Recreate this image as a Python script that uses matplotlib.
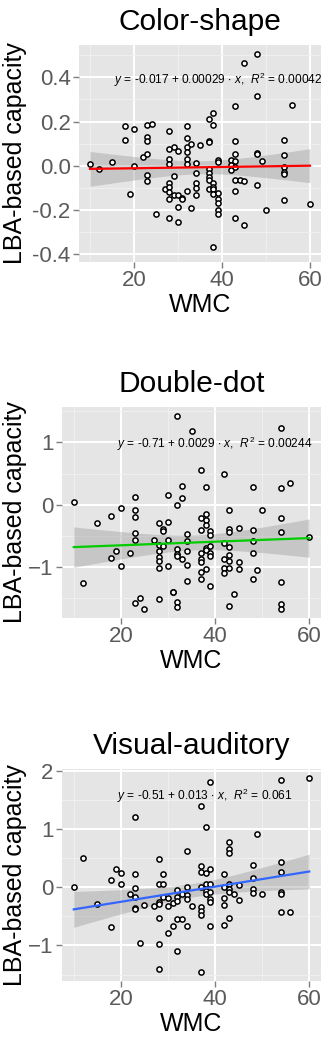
import matplotlib
matplotlib.use("Agg")
import matplotlib.pyplot as plt
import numpy as np

# ---- data ----
cs_wmc = [10, 12, 15, 18, 18, 19, 20, 20, 22, 23, 23, 23, 23, 23, 23, 24, 25, 27,
          28, 28, 28, 28, 28, 28, 28, 28, 28, 29, 29, 29, 30, 30, 30, 30, 31, 31,
          32, 32, 32, 32, 32, 32, 32, 33, 33, 34, 34, 34, 34, 34, 35,
          37, 37, 37, 37, 37, 37, 37, 37, 38, 38, 38, 38, 38, 38, 38,
          39, 39, 39, 39, 39, 39, 39, 42, 42, 42, 43, 43, 43, 43, 43, 43, 43, 43,
          44, 45, 45, 45, 48, 48, 48, 48, 48, 49, 50, 54, 54, 54, 54, 54, 54, 56, 60]
cs_cap = [0.008, -0.014, 0.018, 0.18, 0.116, -0.127, 0.168, 0.0, 0.038, 0.184, 0.131,
          0.112, 0.051, -0.04, -0.07, 0.19, -0.22, -0.106,
          0.155, 0.077, 0.03, 0.006, -0.08, -0.096, -0.118, -0.15, -0.238,
          0.086, -0.045, -0.13, 0.065, -0.13, -0.187, -0.254, -0.145, -0.15,
          0.181, 0.127, 0.086, 0.063, 0.03, 0.009, -0.113, 0.098, -0.193,
          0.011, -0.033, -0.077, -0.1, -0.13, 0.095,
          0.21, 0.11, 0.106, -0.015, -0.032, -0.05, -0.065, -0.103,
          0.24, 0.186, -0.08, -0.095, -0.107, -0.128, -0.367,
          0.026, 0.018, -0.122, -0.152, -0.168, -0.2, -0.22, 0.026, 0.003, -0.02,
          0.272, 0.112, 0.053, 0.023, -0.005, -0.065, -0.115, -0.238,
          -0.066, 0.466, -0.068, -0.266, 0.507, 0.317, 0.059, 0.051, -0.085,
          0.02, -0.2, 0.118, 0.047, -0.005, -0.027, -0.036, -0.155, 0.276, -0.175]

dd_wmc = [10, 12, 15, 18, 18, 19, 20, 20, 22, 23, 23, 23, 23, 23, 23, 24, 25, 27,
          28, 28, 28, 28, 28, 28, 28, 29, 29, 29, 30, 30, 30, 30, 31, 31,
          32, 32, 32, 32, 32, 32, 32, 33, 33, 33, 34, 34, 34, 34, 34, 35,
          37, 37, 37, 37, 37, 37, 37, 37, 38, 38, 38, 38, 38, 38, 38,
          39, 39, 39, 39, 39, 39, 42, 42, 42, 42, 42,
          43, 43, 43, 43, 43, 43, 43, 43, 44, 45, 45, 45,
          48, 48, 48, 48, 48, 49, 50, 54, 54, 54, 54, 54, 54, 54, 56, 60]
dd_cap = [0.04, -1.26, -0.29, -0.18, -0.85, -0.75, -0.05, -0.99, -0.77, 0.12, -0.09,
          -0.2, -0.45, -0.57, -1.58, -1.5, -1.68, -0.56,
          -0.29, -0.64, -0.75, -0.84, -0.91, -1.02, -1.51, -0.39, -0.42, -0.67,
          0.15, -0.27, -0.56, -0.99, -1.4, -1.41,
          1.43, 0.0, -0.71, -0.79, -0.83, -1.57, -1.65, 0.3, 0.11, -0.88,
          -0.47, -0.58, -0.75, -0.97, -1.22, 1.18,
          0.55, -0.21, -0.4, -0.77, -0.87, -0.92, -1.08, -1.2,
          0.28, -0.15, -0.24, -0.33, -0.69, -0.73, -1.03,
          -0.43, -0.48, -0.67, -0.77, -0.83, -1.3, 0.5, -0.61, -0.88, -1.02, -1.09,
          -0.08, -0.39, -0.44, -0.68, -0.8, -0.9, -1.02, -1.62, -1.44, -0.37, -0.92, -1.03,
          0.28, -0.41, -0.59, -0.77, -1.2, -1.05, -0.08, 1.23, 0.27, -0.22, -0.44,
          -1.24, -1.6, -1.68, 0.35, -0.52]

va_wmc = [10, 12, 15, 18, 18, 19, 20, 20, 22, 23, 23, 23, 23, 23, 23, 24, 25, 27,
          28, 28, 28, 28, 28, 28, 28, 29, 29, 29, 30, 30, 30, 31, 31,
          32, 32, 32, 32, 32, 33, 33, 34, 34, 34, 34, 34, 35,
          37, 37, 37, 37, 37, 37, 37, 37, 38, 38, 38, 38, 38,
          39, 39, 39, 39, 39, 39, 39, 42, 42, 42, 42, 42,
          43, 43, 43, 43, 43, 43, 43, 44, 45, 45, 48, 48, 48, 48, 49, 50,
          54, 54, 54, 54, 54, 54, 56, 60]
va_cap = [0.0, 0.5, -0.28, 0.12, -0.69, 0.31, 0.25, 0.05, -0.11, 1.21, 0.22, -0.02,
          -0.17, -0.35, -0.37, -0.96, -0.31, -0.33,
          0.48, 0.06, -0.26, -0.29, -0.52, -0.97, -1.4, 0.22, 0.05, -0.17,
          -0.18, -0.32, -0.78, -0.27, -0.66,
          -0.05, -0.17, -0.24, -0.55, -1.1, -0.11, -0.54, 0.62, 0.0, -0.13, -0.21, -0.66, -0.32,
          1.39, 0.36, 0.27, 0.0, -0.34, -0.4, -0.47, -1.45, 1.04, 0.24, 0.06, -0.06, -0.12,
          1.81, 0.31, 0.05, -0.09, -0.2, -0.25, -0.66, 0.23, 0.0, -0.19, -0.31, -0.65,
          0.78, 0.65, 0.58, 0.06, -0.03, -0.09, -0.53, -0.12, 0.03, -0.22,
          0.39, 0.16, -0.03, -0.1, 0.92, -0.12,
          1.84, 0.43, 0.27, -0.09, -0.11, -0.43, -0.43, 1.88]

titles = ["Color-shape", "Double-dot", "Visual-auditory"]
intercepts = [-0.017, -0.71, -0.51]
slopes = [0.00029, 0.0029, 0.013]
eq_labels = [r"$y$ = -0.017 + 0.00029 $\cdot$ $x$,  $R^2$ = 0.00042",
             r"$y$ = -0.71 + 0.0029 $\cdot$ $x$,  $R^2$ = 0.00244",
             r"$y$ = -0.51 + 0.013 $\cdot$ $x$,  $R^2$ = 0.061"]
line_colors = ["#FF0000", "#00CC00", "#3366FF"]


def ci_band(x, y, xs, b0, b1):
    x = np.asarray(x, float)
    y = np.asarray(y, float)
    n = len(x)
    resid = y - (b0 + b1 * x)
    s = np.sqrt(np.sum(resid ** 2) / (n - 2))
    sxx = np.sum((x - x.mean()) ** 2)
    se = s * np.sqrt(1.0 / n + (xs - x.mean()) ** 2 / sxx)
    return 1.98 * se


def panel(ax, x, y, i, ylim, major, minor, eq_pos):
    ax.set_facecolor("#E5E5E5")
    for sp in ax.spines.values():
        sp.set_visible(False)
    ax.set_xlim(7.5, 62.5)
    ax.set_ylim(*ylim)
    ax.set_xticks([20, 40, 60])
    ax.set_xticks([10, 30, 50], minor=True)
    ax.set_yticks(major)
    ax.set_yticks(minor, minor=True)
    ax.grid(True, which="major", color="white", lw=1.4)
    ax.grid(True, which="minor", color="#F2F2F2", lw=0.6)
    ax.set_axisbelow(True)
    ax.tick_params(which="major", length=4, width=1, color="#7F7F7F",
                   labelcolor="#5A5A5A", labelsize=16, pad=2)
    ax.tick_params(which="minor", length=0)

    xs = np.linspace(min(x), max(x), 100)
    fit = intercepts[i] + slopes[i] * xs
    band = ci_band(x, y, xs, intercepts[i], slopes[i])
    ax.fill_between(xs, fit - band, fit + band, color="#999999", alpha=0.4, lw=0, zorder=2)
    ax.scatter(x, y, s=14, facecolor="white", edgecolor="black", linewidths=1.1, zorder=3)
    ax.plot(xs, fit, color=line_colors[i], lw=1.6, zorder=4)
    ax.text(eq_pos[0], eq_pos[1], eq_labels[i], ha="center", va="center",
            fontsize=8.6, zorder=5)

    ax.set_title(titles[i], fontsize=21.5, pad=11)
    ax.set_xlabel("WMC", fontsize=18, labelpad=1)
    ax.set_ylabel("LBA-based capacity", fontsize=18)


def main():
    plt.rcParams["font.family"] = ["Liberation Sans", "DejaVu Sans"]
    plt.rcParams["mathtext.fontset"] = "custom"
    plt.rcParams["mathtext.rm"] = "Liberation Sans"
    plt.rcParams["mathtext.it"] = "Liberation Sans:italic"

    fig = plt.figure(figsize=(3.23, 10.41), dpi=100)
    W, H = 323, 1041
    boxes = [(79, 45, 321, 262), (62, 407, 321, 618), (62, 769, 321, 981)]
    axes = []
    for l, t, r, b in boxes:
        axes.append(fig.add_axes([l / W, 1 - b / H, (r - l) / W, (b - t) / H]))

    panel(axes[0], cs_wmc, cs_cap, 0, (-0.435, 0.546),
          [-0.4, -0.2, 0.0, 0.2, 0.4], [-0.3, -0.1, 0.1, 0.3, 0.5], (39.2, 0.39))
    panel(axes[1], dd_wmc, dd_cap, 1, (-1.82, 1.57),
          [-1, 0, 1], [-1.5, -0.5, 0.5, 1.5], (40.0, 0.97))
    panel(axes[2], va_wmc, va_cap, 2, (-1.61, 2.03),
          [-1, 0, 1, 2], [-1.5, -0.5, 0.5, 1.5], (37.8, 1.57))

    axes[0].set_yticklabels(["-0.4", "-0.2", "0.0", "0.2", "0.4"])

    # y labels sit with their right edge ~27px from the figure's left edge
    for ax in axes:
        pos = ax.get_position()
        ax.yaxis.set_label_coords((27 / W - pos.x0) / pos.width, 0.5)

    fig.savefig("out.png", dpi=100)
    plt.close(fig)


if __name__ == "__main__":
    main()
